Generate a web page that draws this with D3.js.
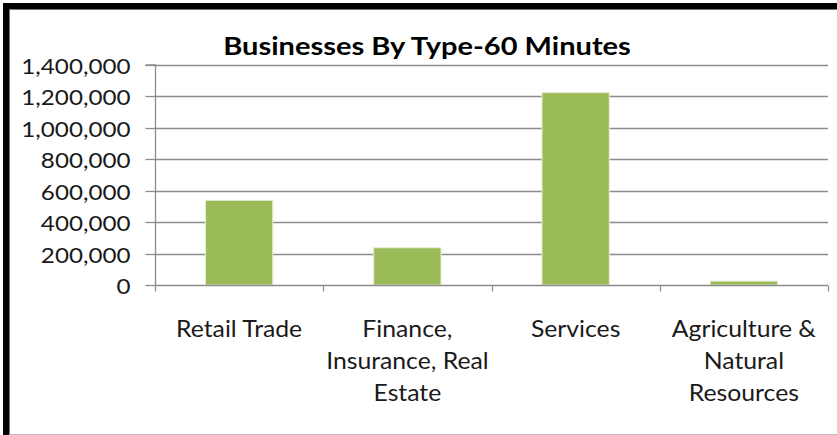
<!DOCTYPE html>
<html><head><meta charset="utf-8">
<script src="https://cdn.jsdelivr.net/npm/d3@7"></script>
<style>html,body{margin:0;padding:0;background:#fff;} svg{display:block;}</style>
</head><body>
<script>
const categories = [["Retail Trade"], ["Finance,", "Insurance, Real", "Estate"], ["Services"], ["Agriculture &", "Natural", "Resources"]];
const categoryKeys = ["Retail Trade", "Finance, Insurance, Real Estate", "Services", "Agriculture & Natural Resources"];
const values = [539000, 237000, 1224000, 25000];
const yTicks = [0, 200000, 400000, 600000, 800000, 1000000, 1200000, 1400000];
const title = "Businesses By Type-60 Minutes";

(function () {
const W = 837, H = 435;
const svg = d3.select("body").append("svg").attr("width", W).attr("height", H);
const font = "Lato, 'Open Sans', sans-serif";
const textColor = "#1a1a1a";
const SX = 1.1;

// frame
svg.append("rect").attr("x", 0).attr("y", 0).attr("width", W).attr("height", H).attr("fill", "#fff");
svg.append("rect").attr("x", 3).attr("y", 3).attr("width", W - 3).attr("height", 6).attr("fill", "#000");
svg.append("rect").attr("x", 3).attr("y", 3).attr("width", 6).attr("height", H - 3).attr("fill", "#000");
svg.append("line").attr("x1", 9).attr("x2", W).attr("y1", 9.5).attr("y2", 9.5).attr("stroke", "#777");
svg.append("line").attr("x1", 9.5).attr("x2", 9.5).attr("y1", 9).attr("y2", H).attr("stroke", "#777");
svg.append("line").attr("x1", 9).attr("x2", W).attr("y1", 434.5).attr("y2", 434.5).attr("stroke", "#bbb");

const pL = 155, pR = 828, pT = 65, pB = 285;
const x = d3.scaleBand().domain(categoryKeys).range([pL, pR]).paddingInner(0.6).paddingOuter(0.3);
const xb = d3.scaleBand().domain(categoryKeys).range([pL, pR]);
const y = d3.scaleLinear().domain([0, 1400000]).range([pB, pT]);

// gridlines
svg.append("g").selectAll("line").data(yTicks.filter(d => d > 0)).join("line")
  .attr("x1", pL).attr("x2", pR)
  .attr("y1", d => Math.round(y(d)) + 0.5).attr("y2", d => Math.round(y(d)) + 0.5)
  .attr("stroke", "#8c8c8c").attr("stroke-width", 1.3);

// y axis
const yAxis = d3.axisLeft(y).tickValues(yTicks).tickSize(10).tickPadding(25)
  .tickFormat(d3.format(","));
const gy = svg.append("g").attr("transform", `translate(${pL + 0.5},0)`).call(yAxis);
gy.select(".domain").attr("stroke", "#8c8c8c").attr("stroke-width", 1.3).attr("d", `M-10,${pT}H0V${pB}`);
gy.selectAll(".tick line").attr("stroke", "#8c8c8c").attr("stroke-width", 1.3);
gy.selectAll(".tick").attr("transform", d => `translate(0,${Math.round(y(d)) + 0.5})`);
gy.selectAll(".tick text")
  .attr("x", 0).attr("dy", "0.36em")
  .attr("transform", `translate(-25,1) scale(${SX},1)`)
  .attr("font-family", font).attr("font-size", 22).attr("fill", textColor);

// bars
svg.append("g").selectAll("rect").data(values).join("rect")
  .attr("x", (d, i) => x(categoryKeys[i]))
  .attr("width", x.bandwidth())
  .attr("y", d => y(d))
  .attr("height", d => pB - y(d))
  .attr("fill", "#9bbb59")
  .attr("stroke", "#e6eed6").attr("stroke-width", 1);

// x axis
const gx = svg.append("g").attr("transform", `translate(0,${pB + 0.5})`);
gx.append("line").attr("x1", pL).attr("x2", pR).attr("stroke", "#8c8c8c").attr("stroke-width", 1.3);
const bounds = categoryKeys.map(k => xb(k)).concat([pR]);
gx.selectAll("line.tk").data(bounds).join("line").attr("class", "tk")
  .attr("x1", d => Math.round(d) + 0.5).attr("x2", d => Math.round(d) + 0.5)
  .attr("y1", 0).attr("y2", 6).attr("stroke", "#8c8c8c").attr("stroke-width", 1.3);

categoryKeys.forEach((k, i) => {
  const cx = xb(k) + xb.bandwidth() / 2;
  categories[i].forEach((line, j) => {
    svg.append("text")
      .attr("transform", `translate(${cx},${337 + j * 32}) scale(${SX},1)`)
      .attr("font-family", font).attr("font-size", 22.5).attr("fill", textColor)
      .attr("text-anchor", "middle").text(line);
  });
});

// title
svg.append("text").attr("transform", "translate(427,55) scale(1.21,1)").attr("text-anchor", "middle")
  .attr("font-family", font).attr("font-weight", "bold").attr("font-size", 24).attr("fill", "#000")
  .text(title);
})();
</script>
</body></html>
